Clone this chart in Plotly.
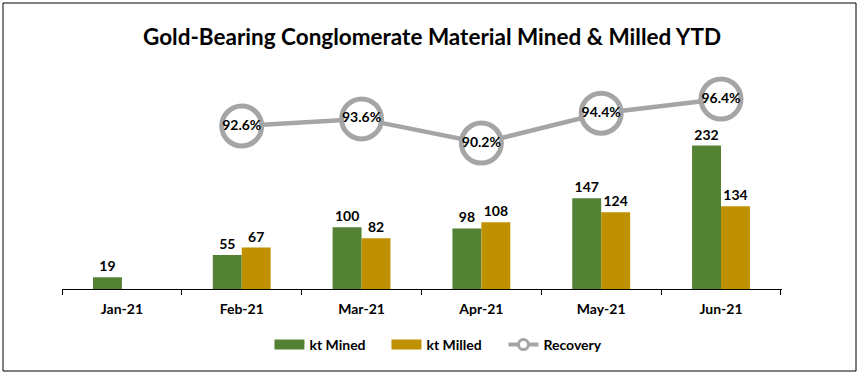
import plotly.graph_objects as go

months = ["Jan-21", "Feb-21", "Mar-21", "Apr-21", "May-21", "Jun-21"]
kt_mined = [19, 55, 100, 98, 147, 232]
kt_milled = [None, 67, 82, 108, 124, 134]
rec_months = ["Feb-21", "Mar-21", "Apr-21", "May-21", "Jun-21"]
recovery = [92.6, 93.6, 90.2, 94.4, 96.4]

GREEN = "#548235"
GOLD = "#BF9000"
GREY = "#A5A5A5"
FONT = "Lato"

W, H = 864, 379
ML, MR, MT, MB = 62, 82, 60, 90
PW, PH = W - ML - MR, H - MT - MB

lbl_font = dict(family=FONT, size=14, color="black", weight="bold")

fig = go.Figure()
fig.add_trace(go.Bar(
    x=months, y=kt_mined, name="kt Mined", showlegend=False,
    marker=dict(color=GREEN, line=dict(width=0)),
    text=[f"{v}" for v in kt_mined], textposition="outside", cliponaxis=False,
    textfont=lbl_font,
))
fig.add_trace(go.Bar(
    x=months, y=kt_milled, name="kt Milled", showlegend=False,
    marker=dict(color=GOLD, line=dict(width=0)),
    text=["" if v is None else f"{v}" for v in kt_milled], textposition="outside",
    cliponaxis=False, textfont=lbl_font,
))
fig.add_trace(go.Scatter(
    x=rec_months, y=recovery, yaxis="y2", mode="lines+markers+text", showlegend=False,
    line=dict(color=GREY, width=4.5),
    marker=dict(size=40, color="white", line=dict(color=GREY, width=5)),
    text=[f"{v:.1f}%" for v in recovery], textposition="middle center",
    textfont=lbl_font, cliponaxis=False, name="Recovery",
))
# legend-only entries
fig.add_trace(go.Scatter(x=[None], y=[None], mode="lines", name="kt Mined",
                         line=dict(color=GREEN, width=10)))
fig.add_trace(go.Scatter(x=[None], y=[None], mode="lines", name="kt Milled",
                         line=dict(color=GOLD, width=10)))
fig.add_trace(go.Scatter(
    x=[None], y=[None], yaxis="y2", mode="lines+markers", name="Recovery",
    line=dict(color=GREY, width=4),
    marker=dict(size=10, color="white", line=dict(color=GREY, width=3)),
))

y2_lo, y2_hi = 69.63, 101.9

def px_x(p):
    return (p - ML) / PW

def px_y(p):
    return (H - MB - p) / PH

fig.update_layout(
    width=W, height=H,
    margin=dict(l=ML, r=MR, t=MT, b=MB),
    paper_bgcolor="white", plot_bgcolor="white",
    barmode="group", bargap=0.517, bargroupgap=0,
    font=dict(family=FONT, color="black"),
    title=dict(text="Gold-Bearing Conglomerate Material Mined & Milled YTD",
               x=0.5, xref="container", xanchor="center",
               y=1 - 37 / H, yref="container", yanchor="middle",
               font=dict(family=FONT, size=22.5, color="black", weight="bold")),
    xaxis=dict(type="category", categoryorder="array", categoryarray=months,
               showline=True, linecolor="black", linewidth=1.3,
               ticks="outside", tickson="boundaries", ticklen=5, tickcolor="black",
               ticklabelstandoff=7,
               tickfont=lbl_font, showgrid=False, zeroline=False),
    yaxis=dict(range=[0, PH / 0.618], showticklabels=False, showgrid=False,
               zeroline=False, showline=False, ticks=""),
    yaxis2=dict(range=[y2_lo, y2_hi], overlaying="y", side="right",
                showticklabels=False, showgrid=False, zeroline=False,
                showline=False, ticks=""),
    legend=dict(orientation="h", x=0.515, xref="container", xanchor="center",
                y=1 - 345 / H, yref="container", yanchor="middle",
                font=lbl_font, itemwidth=30, tracegroupgap=0,
                entrywidth=72, entrywidthmode="pixels"),
    showlegend=True,
    shapes=[dict(type="rect", xref="paper", yref="paper",
                 x0=px_x(3), x1=px_x(856), y0=px_y(371), y1=px_y(3),
                 line=dict(color="black", width=1), fillcolor="rgba(0,0,0,0)",
                 layer="below")],
)

fig.write_html("out.html", config={"displayModeBar": False},
               post_script="document.body.style.margin='0';document.body.style.overflow='hidden';")
